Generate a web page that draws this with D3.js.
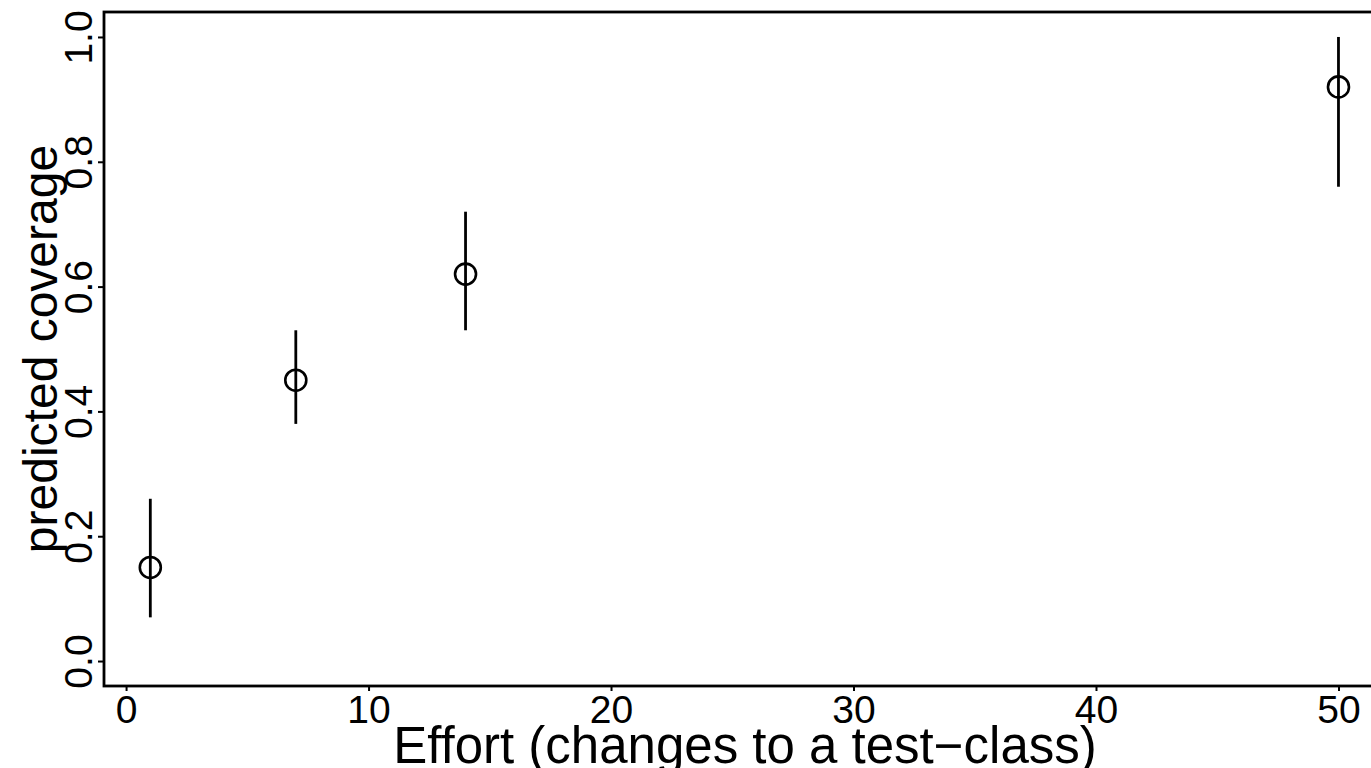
<!DOCTYPE html>
<html>
<head>
<meta charset="utf-8">
<script src="https://cdn.jsdelivr.net/npm/d3@7"></script>
<style>
  body { margin: 0; background: #fff; }
  text { font-family: "Liberation Sans", Arial, Helvetica, sans-serif; fill: #000; }
</style>
</head>
<body>
<div id="chart"></div>
<script>
// effort values (changes to a test-class) and predicted coverage with interval
const effort = [1, 7, 14, 50];
const coverage = [0.15, 0.45, 0.62, 0.92];
const lower = [0.07, 0.38, 0.53, 0.76];
const upper = [0.26, 0.53, 0.72, 1.0];
const xTicks = [0, 10, 20, 30, 40, 50];
const yTicks = [0.0, 0.2, 0.4, 0.6, 0.8, 1.0];

const width = 1371, height = 768;
const panel = { left: 104, top: 12, right: 1386, bottom: 686 };

const svg = d3.select("#chart")
  .append("svg")
  .attr("width", width)
  .attr("height", height);

const x = d3.scaleLinear().domain([-0.91, 51.96]).range([panel.left, panel.right]);
const y = d3.scaleLinear().domain([-0.04, 1.04]).range([panel.bottom, panel.top]);

// panel border (right side falls outside the window)
svg.append("rect")
  .attr("x", panel.left)
  .attr("y", panel.top)
  .attr("width", panel.right - panel.left)
  .attr("height", panel.bottom - panel.top)
  .attr("fill", "none")
  .attr("stroke", "#000")
  .attr("stroke-width", 2.8);

// x axis
const xAxis = svg.append("g")
  .attr("transform", `translate(0,${panel.bottom})`)
  .call(d3.axisBottom(x).tickValues(xTicks).tickFormat(d3.format("d")).tickSize(5).tickPadding(4));
xAxis.select(".domain").remove();
xAxis.selectAll("line").attr("stroke-width", 2);
xAxis.selectAll("text").style("font-size", "39px").attr("fill", "#000");

// y axis with rotated labels
const yAxis = svg.append("g")
  .attr("transform", `translate(${panel.left},0)`)
  .call(d3.axisLeft(y).tickValues(yTicks).tickFormat(d3.format(".1f")).tickSize(6));
yAxis.select(".domain").remove();
yAxis.selectAll("line").attr("stroke-width", 2);
yAxis.selectAll("text")
  .style("font-size", "39px")
  .attr("fill", "#000")
  .attr("x", null)
  .attr("dy", null)
  .attr("text-anchor", "middle")
  .attr("transform", "translate(-12,0) rotate(-90)");

// error bars
svg.selectAll("line.err")
  .data(effort)
  .enter()
  .append("line")
  .attr("class", "err")
  .attr("x1", (d) => x(d))
  .attr("x2", (d) => x(d))
  .attr("y1", (d, i) => y(lower[i]))
  .attr("y2", (d, i) => y(upper[i]))
  .attr("stroke", "#000")
  .attr("stroke-width", 2.8);

// points
svg.selectAll("circle.pt")
  .data(effort)
  .enter()
  .append("circle")
  .attr("class", "pt")
  .attr("cx", (d) => x(d))
  .attr("cy", (d, i) => y(coverage[i]))
  .attr("r", 10.5)
  .attr("fill", "none")
  .attr("stroke", "#000")
  .attr("stroke-width", 2.6);

// axis titles
svg.append("text")
  .attr("x", (panel.left + panel.right) / 2)
  .attr("y", 763)
  .attr("text-anchor", "middle")
  .style("font-size", "51px")
  .text("Effort (changes to a test\u2212class)");

svg.append("text")
  .attr("transform", `translate(57,${(panel.top + panel.bottom) / 2}) rotate(-90)`)
  .attr("text-anchor", "middle")
  .style("font-size", "48px")
  .text("predicted coverage");
</script>
</body>
</html>
